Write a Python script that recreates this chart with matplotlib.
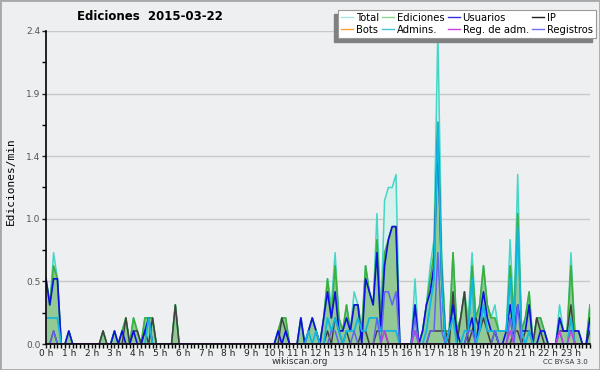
import numpy as np
import matplotlib
matplotlib.use('Agg')
import matplotlib.pyplot as plt
from matplotlib.lines import Line2D
from matplotlib.patches import Rectangle

# edits per minute, one value per 10-minute bin (144 bins)
total = [.5, .3, .7, .5, 0, 0, .1, 0, 0, 0, 0, 0,
         0, 0, 0, .1, 0, 0, .1, 0, .1, .2, 0, .2,
         .1, 0, .2, .2, .2, 0, 0, 0, 0, 0, .3, 0,
         0, 0, 0, 0, 0, 0, 0, 0, 0, 0, 0, 0,
         0, 0, 0, 0, 0, 0, 0, 0, 0, 0, 0, 0,
         0, .1, .2, .2, 0, 0, 0, .2, 0, .1, .2, .1,
         0, .2, .5, .3, .7, .2, .1, .3, .1, .4, .3, .1,
         .6, .4, .3, 1.0, .2, 1.1, 1.2, 1.2, 1.3, 0, 0, 0,
         0, .5, 0, .1, .3, .6, .8, 2.4, .7, .1, .1, .7,
         .1, .2, .4, .2, .7, .2, .3, .6, .3, .2, .3, .1,
         .1, .1, .8, .2, 1.3, .1, .2, .4, 0, .2, .2, .1,
         0, 0, 0, .3, .1, .1, .7, .1, .1, 0, 0, .3]
ediciones = [.5, .3, .6, .5, 0, 0, .1, 0, 0, 0, 0, 0,
             0, 0, 0, .1, 0, 0, .1, 0, .1, .2, 0, .2,
             .1, 0, .2, .2, .2, 0, 0, 0, 0, 0, .3, 0,
             0, 0, 0, 0, 0, 0, 0, 0, 0, 0, 0, 0,
             0, 0, 0, 0, 0, 0, 0, 0, 0, 0, 0, 0,
             0, .1, .2, .2, 0, 0, 0, .2, 0, .1, .2, .1,
             0, .2, .5, .2, .6, .2, .1, .3, .1, .3, .3, .1,
             .6, .4, .3, .8, .2, .7, .8, .9, .9, 0, 0, 0,
             0, .3, 0, .1, .3, .5, .7, 1.7, .6, .1, .1, .7,
             .1, .2, .4, .1, .6, .2, .3, .6, .3, .2, .2, .1,
             .1, .1, .6, .2, 1.0, .1, .2, .4, 0, .2, .2, .1,
             0, 0, 0, .2, .1, .1, .6, .1, .1, 0, 0, .3]
usuarios = [.5, .3, .5, .5, 0, 0, .1, 0, 0, 0, 0, 0,
            0, 0, 0, 0, 0, 0, .1, 0, .1, 0, 0, .1,
            0, 0, .1, .2, 0, 0, 0, 0, 0, 0, 0, 0,
            0, 0, 0, 0, 0, 0, 0, 0, 0, 0, 0, 0,
            0, 0, 0, 0, 0, 0, 0, 0, 0, 0, 0, 0,
            0, .1, 0, .1, 0, 0, 0, .2, 0, .1, .2, .1,
            0, .2, .4, .2, .4, .1, .1, .2, .1, .3, .3, 0,
            .5, .4, .3, .7, .1, .6, .8, .9, .9, 0, 0, 0,
            0, .3, 0, .1, .3, .4, .6, 1.6, .5, 0, .1, .3,
            .1, 0, 0, .1, .2, 0, .2, .4, .2, .1, .1, 0,
            0, .1, .3, .1, .3, .1, .1, .3, 0, 0, .1, .1,
            0, 0, 0, .2, .1, .1, .1, .1, .1, 0, 0, .2]
ip = [0, 0, .1, 0, 0, 0, 0, 0, 0, 0, 0, 0,
      0, 0, 0, .1, 0, 0, 0, 0, 0, .2, 0, .1,
      .1, 0, .1, 0, .2, 0, 0, 0, 0, 0, .3, 0,
      0, 0, 0, 0, 0, 0, 0, 0, 0, 0, 0, 0,
      0, 0, 0, 0, 0, 0, 0, 0, 0, 0, 0, 0,
      0, 0, .2, .1, 0, 0, 0, 0, 0, 0, 0, 0,
      0, 0, .1, 0, .2, .1, 0, .1, 0, 0, 0, .1,
      .1, 0, 0, .1, .1, .1, 0, 0, 0, 0, 0, 0,
      0, 0, 0, 0, 0, .1, .1, .1, .1, .1, 0, .4,
      0, .2, .4, 0, .1, .2, .1, .2, .1, 0, .1, 0,
      0, 0, 0, .1, .1, 0, .1, .1, 0, .2, .1, 0,
      0, 0, 0, .1, .1, .1, .3, 0, 0, 0, 0, .1]
bots = [0.0] * 144
admins = [.2, .2, .2, .2, 0, 0, 0, 0, 0, 0, 0, 0,
          0, 0, 0, 0, 0, 0, 0, 0, 0, 0, 0, 0,
          0, 0, 0, .2, 0, 0, 0, 0, 0, 0, 0, 0,
          0, 0, 0, 0, 0, 0, 0, 0, 0, 0, 0, 0,
          0, 0, 0, 0, 0, 0, 0, 0, 0, 0, 0, 0,
          0, 0, 0, 0, 0, 0, 0, 0, 0, .1, 0, .1,
          0, 0, .2, .1, .2, .1, 0, .1, .1, .1, .2, .1,
          .1, .2, .2, .2, .1, .1, .1, .1, .1, 0, 0, 0,
          0, .1, 0, 0, .1, .3, .5, 1.7, .5, 0, .1, .2,
          0, 0, .1, .1, .5, 0, .1, .3, .1, .1, .1, .1,
          .1, .1, .5, .1, .9, .1, 0, .1, 0, 0, 0, 0,
          0, 0, 0, 0, 0, 0, .2, 0, 0, 0, 0, 0]
reg_adm = [0, 0, 0, 0, 0, 0, 0, 0, 0, 0, 0, 0,
           0, 0, 0, 0, 0, 0, 0, 0, 0, 0, 0, 0,
           0, 0, 0, 0, 0, 0, 0, 0, 0, 0, 0, 0,
           0, 0, 0, 0, 0, 0, 0, 0, 0, 0, 0, 0,
           0, 0, 0, 0, 0, 0, 0, 0, 0, 0, 0, 0,
           0, 0, 0, 0, 0, 0, 0, 0, 0, 0, 0, 0,
           0, 0, 0, 0, 0, 0, 0, 0, 0, 0, 0, 0,
           0, 0, 0, 0, 0, .1, 0, 0, 0, 0, 0, 0,
           0, .1, 0, 0, 0, 0, 0, 0, 0, 0, 0, 0,
           0, 0, 0, 0, 0, 0, 0, 0, 0, 0, 0, 0,
           0, 0, .1, 0, 0, 0, 0, 0, 0, 0, 0, 0,
           0, 0, 0, .1, 0, 0, .1, 0, 0, 0, 0, 0]
registros = [0, 0, .1, 0, 0, 0, 0, 0, 0, 0, 0, 0,
             0, 0, 0, 0, 0, 0, 0, 0, 0, 0, 0, 0,
             0, 0, 0, 0, 0, 0, 0, 0, 0, 0, 0, 0,
             0, 0, 0, 0, 0, 0, 0, 0, 0, 0, 0, 0,
             0, 0, 0, 0, 0, 0, 0, 0, 0, 0, 0, 0,
             0, 0, 0, 0, 0, 0, 0, 0, 0, 0, 0, 0,
             0, 0, 0, .1, .1, 0, 0, 0, 0, .1, 0, 0,
             0, 0, 0, .2, 0, .4, .4, .3, .4, 0, 0, 0,
             0, .2, 0, 0, 0, .1, .1, .7, .1, 0, 0, 0,
             0, 0, 0, .1, .1, 0, 0, 0, 0, 0, .1, 0,
             0, 0, .2, 0, .3, 0, 0, 0, 0, 0, 0, 0,
             0, 0, 0, .1, 0, 0, 0, 0, 0, 0, 0, 0]

hour_labels = [f'{h} h' for h in range(24)]
ytick_vals = [0, 0.48, 0.96, 1.44, 1.92, 2.4]
ytick_labels = ['0.0', '0.5', '1.0', '1.4', '1.9', '2.4']

bg = '#eeeff0'
x = np.arange(144)

fig = plt.figure(figsize=(6, 3.7), dpi=100, facecolor=bg)
ax = fig.add_axes([46/600, 26/370, 544/600, 313/370])
ax.set_facecolor(bg)

ax.fill_between(x, total, color='#d9f1ec', lw=0)
ax.fill_between(x, ediciones, color='#92c995', lw=0)
ax.plot(x, total, color='#45d6c6', lw=1.1)
ax.plot(x, ediciones, color='#3caf3c', lw=1.2)
ax.plot(x, bots, color='#ffa030', lw=1.1)
ax.plot(x, ip, color='#404040', lw=1.1)
ax.plot(x, usuarios, color='#1010e0', lw=1.2)
ax.plot(x, admins, color='#10b8e0', lw=1.3)
ax.plot(x, registros, color='#6464f0', lw=1.1)
ax.plot(x, reg_adm, color='#c040e0', lw=1.1)

ax.set_xlim(0, 143)
ax.set_ylim(0, 2.4)
ax.set_yticks(ytick_vals)
ax.set_yticklabels(ytick_labels)
ax.set_yticks([0.24, 0.72, 1.2, 1.68, 2.16], minor=True)
ax.set_xticks(np.arange(0, 144, 6))
ax.set_xticklabels(hour_labels)
ax.set_xticks(np.arange(0, 144), minor=True)
ax.tick_params(axis='both', which='major', labelsize=6.5, colors='#222222',
               length=3, width=1, pad=0.5)
ax.tick_params(axis='both', which='minor', length=3, width=1)
ax.tick_params(axis='y', labelcolor='#555555', pad=1)
ax.grid(axis='y', color='#c8c8c8', lw=1)
ax.set_axisbelow(True)
for s in ['top', 'right']:
    ax.spines[s].set_visible(False)
for s in ['left', 'bottom']:
    ax.spines[s].set_linewidth(1.2)
    ax.spines[s].set_zorder(5)

fig.text(0.25, 0.955, 'Ediciones  2015-03-22', ha='center', va='center',
         fontsize=8.5, fontweight='bold')
fig.text(0.018, 0.51, 'Ediciones/min', rotation=90, ha='center', va='center',
         fontsize=8, family='DejaVu Sans Mono')
fig.text(0.5, 0.022, 'wikiscan.org', ha='center', va='center', fontsize=6.5,
         color='#333333')
fig.text(0.98, 0.022, 'CC BY-SA 3.0', ha='right', va='center', fontsize=5,
         color='#333333')

names = ['Total', 'Bots', 'Ediciones', 'Admins.', 'Usuarios', 'Reg. de adm.',
         'IP', 'Registros']
colors = ['#a8e8e8', '#ffa030', '#90d890', '#40c8d8', '#3030e0', '#d040e0',
          '#202020', '#7070f0']
handles = [Line2D([], [], color=c, lw=1) for c in colors]
leg = fig.legend(handles, names, ncol=4, loc='upper right',
                 bbox_to_anchor=(0.993, 0.973), fontsize=7.2, frameon=True,
                 fancybox=False, edgecolor='#999999', framealpha=1,
                 handlelength=1.2, handletextpad=0.3, columnspacing=0.3,
                 labelspacing=0.2, borderpad=0.3, borderaxespad=0)
leg.get_frame().set_linewidth(0.8)
leg.set_zorder(10)
fig.canvas.draw()
bb = leg.get_window_extent()
fig.patches.append(Rectangle((bb.x0 - 4, bb.y0 - 4), bb.width, bb.height,
                             transform=None, color='#808080', zorder=1))

fig.patches.append(Rectangle((0, 0), 1, 1, transform=fig.transFigure,
                             fill=False, edgecolor='#a8a8a8', lw=2))

fig.savefig('out.png', dpi=100, facecolor=bg)
